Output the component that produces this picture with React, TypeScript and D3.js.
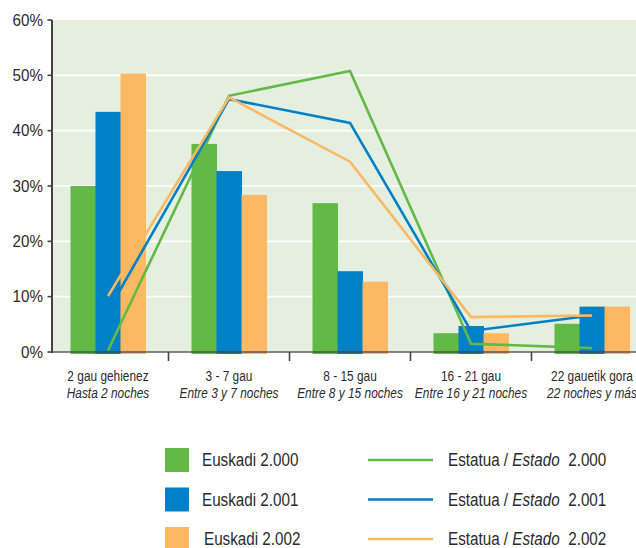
import React from "react";
import * as d3 from "d3";

const categoriesEu = ["2 gau gehienez", "3 - 7 gau", "8 - 15 gau", "16 - 21 gau", "22 gauetik gora"];
const categoriesEs = ["Hasta 2 noches", "Entre 3 y 7 noches", "Entre 8 y 15 noches", "Entre 16 y 21 noches", "22 noches y más"];
const barSeries = ["Euskadi 2.000", "Euskadi 2.001", "Euskadi 2.002"];
const euskadi2000 = [30.0, 37.6, 26.9, 3.4, 5.1];
const euskadi2001 = [43.4, 32.7, 14.6, 4.7, 8.2];
const euskadi2002 = [50.3, 28.4, 12.7, 3.4, 8.2];
const lineYears = ["2.000", "2.001", "2.002"];
const estado2000 = [0.3, 46.3, 50.8, 1.5, 0.7];
const estado2001 = [7.4, 45.7, 41.4, 3.8, 6.6];
const estado2002 = [10.1, 46.0, 34.4, 6.3, 6.6];
const yTicks = [0, 10, 20, 30, 40, 50, 60];
const colors = ["#62b946", "#0080c6", "#fdb863"];

const FONT = "'Liberation Sans', Arial, sans-serif";
const textColor = "#2b2b2b";

function T(props: { x: number; y: number; size: number; sx: number; anchor?: string; italic?: boolean; dy?: string; children: any }) {
  const { x, y, size, sx, anchor, italic, dy, children } = props;
  return (
    <g transform={`translate(${x},${y}) scale(${sx},1)`}>
      <text x={0} y={0} dy={dy} textAnchor={anchor || "start"} fontSize={size}
        fontStyle={italic ? "italic" : "normal"} fill={textColor}>{children}</text>
    </g>
  );
}

export default function App() {
  const W = 636, H = 548;
  const y = d3.scaleLinear().domain([0, 60]).range([352, 20]);
  const x = d3.scaleBand<number>().domain(d3.range(categoriesEu.length)).range([47.5, 652.5]).padding(0);
  const xs = d3.scaleBand<number>().domain([0, 1, 2]).range([0, x.bandwidth()]).paddingOuter(0.92).paddingInner(0);
  const bars = [euskadi2000, euskadi2001, euskadi2002];
  const lines = [estado2000, estado2001, estado2002];
  const lineGen = d3.line<number>()
    .x((_, i) => (x(i) as number) + x.bandwidth() / 2)
    .y((d) => y(d));
  const axisX = 52;

  return (
    <svg width={W} height={H} style={{ position: "absolute", left: 0, top: 0, fontFamily: FONT }}>
      <rect x={axisX} y={y(60)} width={W - axisX} height={y(0) - y(60)} fill="#e4efdf" />
      {yTicks.filter((t) => t > 0 && t < 60).map((t) => (
        <line key={t} x1={axisX} x2={W} y1={y(t)} y2={y(t)} stroke="#ffffff" strokeWidth={1.6} />
      ))}
      {bars.map((vals, s) =>
        vals.map((v, i) => (
          <rect key={`${s}-${i}`} x={(x(i) as number) + (xs(s) as number)} y={y(v)}
            width={xs.bandwidth() + 0.5} height={y(0) - y(v) + 2} fill={colors[s]} />
        ))
      )}
      {lines.map((vals, s) => (
        <path key={s} d={lineGen(vals) || ""} fill="none" stroke={colors[s]} strokeWidth={2.6} strokeLinejoin="miter" />
      ))}
      <line x1={axisX} x2={axisX} y1={y(60)} y2={y(0) + 1} stroke="#444" strokeWidth={2} />
      <line x1={axisX - 1} x2={W} y1={y(0)} y2={y(0)} stroke="#444" strokeWidth={1.6} opacity={0.85} />
      {yTicks.map((t) => (
        <g key={t}>
          <line x1={axisX - 4.5} x2={axisX} y1={y(t)} y2={y(t)} stroke="#444" strokeWidth={1.6} />
          <T x={43} y={y(t)} dy="0.36em" anchor="end" size={16} sx={0.95}>{t}%</T>
        </g>
      ))}
      {d3.range(1, categoriesEu.length).map((i) => (
        <line key={i} x1={x(i) as number} x2={x(i) as number} y1={y(0)} y2={y(0) + 9} stroke="#444" strokeWidth={1.6} />
      ))}
      {categoriesEu.map((c, i) => {
        const cx = (x(i) as number) + x.bandwidth() / 2;
        return (
          <g key={c}>
            <T x={cx} y={381} anchor="middle" size={14.5} sx={0.82}>{c}</T>
            <T x={cx} y={398} anchor="middle" size={14.5} sx={0.82} italic>{categoriesEs[i]}</T>
          </g>
        );
      })}
      {barSeries.map((name, s) => {
        const cy = 460 + s * 39.5;
        return (
          <g key={name}>
            <rect x={165} y={cy - 12} width={24} height={24} fill={colors[s]} />
            <T x={202 + (s === 2 ? 2 : 0)} y={cy} dy="0.36em" size={17.5} sx={0.87}>{name}</T>
            <line x1={368} x2={433} y1={cy} y2={cy} stroke={colors[s]} strokeWidth={2.6} />
            <T x={448} y={cy} dy="0.36em" size={17.5} sx={0.87}>
              <tspan>Estatua / </tspan>
              <tspan fontStyle="italic">Estado</tspan>
              <tspan dx={5}>{" " + lineYears[s]}</tspan>
            </T>
          </g>
        );
      })}
    </svg>
  );
}
